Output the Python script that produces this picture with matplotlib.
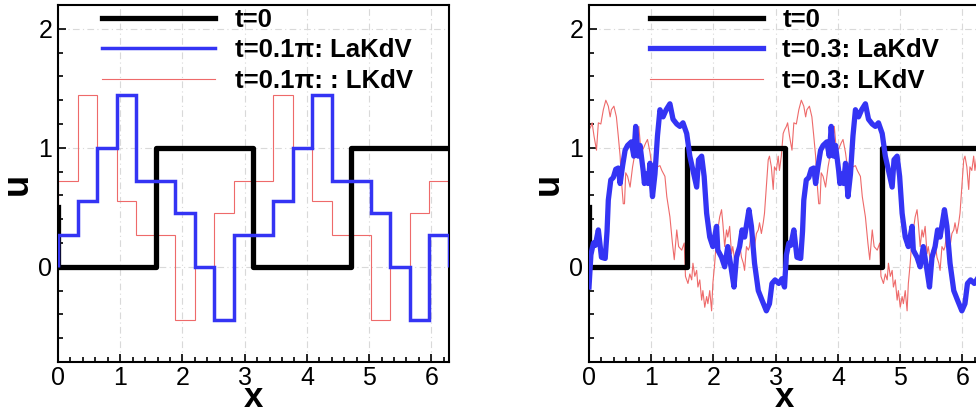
import numpy as np
import matplotlib
matplotlib.use("Agg")
import matplotlib.pyplot as plt
from matplotlib.ticker import MultipleLocator

# -----------------------------
# Data
# -----------------------------
# initial square wave, period pi
x_init = [0.0, 0.0, 0.5, 0.5, 1.0, 1.0, 1.5, 1.5, 2.0]   # in units of pi
u_init = [0.5, 0.0, 0.0, 1.0, 1.0, 0.0, 0.0, 1.0, 1.0]

# left panel: piecewise constant states on cells of width pi/10
cell_edges = [0.0, 0.1, 0.2, 0.3, 0.4, 0.5, 0.6, 0.7, 0.8, 0.9, 1.0,
              1.1, 1.2, 1.3, 1.4, 1.5, 1.6, 1.7, 1.8, 1.9, 2.0]   # in units of pi
u_lakdv_left = [0.27, 0.55, 1.00, 1.44, 0.72, 0.72, 0.45, 0.00, -0.45, 0.27,
                0.27, 0.55, 1.00, 1.44, 0.72, 0.72, 0.45, 0.00, -0.45, 0.27]
u_lkdv_left = [0.72, 1.44, 1.00, 0.55, 0.27, 0.27, -0.45, 0.00, 0.45, 0.72,
               0.72, 1.44, 1.00, 0.55, 0.27, 0.27, -0.45, 0.00, 0.45, 0.72]

# right panel: one period [0, pi), the solution repeats with period pi
x_lakdv = [0.00, 0.03, 0.07, 0.10, 0.15, 0.20, 0.26, 0.29, 0.31, 0.35,
           0.39, 0.43, 0.47, 0.50, 0.54, 0.58, 0.62, 0.68, 0.72, 0.75,
           0.79, 0.82, 0.87, 0.89, 0.92, 0.95, 0.98, 1.02, 1.06, 1.10,
           1.14, 1.19, 1.24, 1.30, 1.35, 1.41, 1.46, 1.51, 1.57, 1.62,
           1.67, 1.73, 1.76, 1.81, 1.85, 1.89, 1.94, 1.99, 2.05, 2.07,
           2.13, 2.18, 2.23, 2.29, 2.33, 2.37, 2.42, 2.46, 2.50, 2.57,
           2.61, 2.66, 2.72, 2.78, 2.85, 2.90, 2.94, 2.99, 3.05, 3.10]
u_lakdv = [-0.17, 0.10, 0.20, 0.18, 0.31, 0.08, 0.07, 0.30, 0.56, 0.73,
           0.75, 0.82, 0.83, 0.70, 0.85, 0.98, 1.02, 1.05, 0.93, 1.18,
           0.93, 1.02, 0.81, 0.70, 0.78, 0.70, 0.87, 0.59, 0.78, 1.10,
           1.32, 1.26, 1.32, 1.37, 1.24, 1.20, 1.18, 1.21, 1.12, 0.93,
           0.81, 0.67, 0.90, 0.93, 0.76, 0.45, 0.25, 0.17, 0.34, 0.14,
           0.08, 0.00, 0.17, -0.03, -0.17, 0.08, 0.17, 0.31, 0.25, 0.48,
           0.34, 0.03, -0.20, -0.28, -0.37, -0.31, -0.14, -0.11, -0.14, -0.10]

x_lkdv = [0.00, 0.03, 0.05, 0.08, 0.12, 0.15, 0.19, 0.23, 0.27, 0.31,
          0.34, 0.36, 0.40, 0.44, 0.47, 0.50, 0.52, 0.55, 0.57, 0.59,
          0.62, 0.66, 0.70, 0.73, 0.76, 0.80, 0.83, 0.87, 0.91, 0.94,
          0.98, 1.01, 1.06, 1.10, 1.14, 1.17, 1.22, 1.25, 1.30, 1.34,
          1.37, 1.41, 1.44, 1.49, 1.53, 1.55, 1.59, 1.62, 1.65, 1.67,
          1.70, 1.73, 1.75, 1.78, 1.81, 1.83, 1.86, 1.89, 1.91, 1.94,
          1.97, 1.99, 2.02, 2.05, 2.07, 2.10, 2.13, 2.15, 2.18, 2.21,
          2.23, 2.26, 2.29, 2.31, 2.34, 2.37, 2.40, 2.42, 2.45, 2.48,
          2.50, 2.53, 2.56, 2.58, 2.61, 2.64, 2.66, 2.69, 2.72, 2.74,
          2.77, 2.80, 2.82, 2.85, 2.88, 2.90, 2.93, 2.96, 2.98, 3.01,
          3.04, 3.06, 3.09, 3.12]
u_lkdv = [1.15, 1.18, 1.21, 1.10, 0.98, 1.21, 1.20, 1.32, 1.40, 1.35,
          1.26, 1.32, 1.35, 1.26, 1.10, 0.93, 0.73, 0.53, 0.53, 0.79,
          0.76, 0.67, 0.84, 0.93, 0.98, 1.18, 1.00, 0.99, 1.04, 1.07,
          0.96, 0.84, 0.90, 0.84, 0.85, 0.81, 0.76, 0.59, 0.42, 0.20,
          0.06, 0.31, 0.17, 0.14, 0.20, -0.08, -0.14, -0.06, -0.11, 0.03,
          -0.08, -0.03, -0.17, -0.11, -0.28, -0.20, -0.34, -0.25, -0.31, -0.20,
          -0.37, -0.14, 0.03, 0.25, 0.31, 0.42, 0.48, 0.37, 0.17, 0.31,
          0.25, 0.34, 0.11, 0.17, 0.06, 0.14, 0.08, 0.20, 0.08, 0.03,
          -0.03, 0.17, 0.14, 0.17, 0.31, 0.25, 0.17, 0.28, 0.31, 0.37,
          0.28, 0.37, 0.45, 0.67, 0.90, 0.93, 0.84, 0.65, 0.84, 0.81,
          0.93, 0.81, 0.93, 1.12]

labels_left = ["t=0", "t=0.1π: LaKdV", "t=0.1π: : LKdV"]
labels_right = ["t=0", "t=0.3: LaKdV", "t=0.3: LKdV"]

# -----------------------------
# Style
# -----------------------------
plt.rcParams["font.family"] = ["Liberation Sans", "DejaVu Sans"]

BLACK = "black"
BLUE = "#3434f4"
RED = "#ee6a6a"
GRID = "#d9d9d9"


def two_periods(x, u):
    x = np.asarray(x)
    u = np.asarray(u)
    xx = np.concatenate([x, x + np.pi, [2 * np.pi]])
    uu = np.concatenate([u, u, [u[0]]])
    return xx, uu


def style_axes(ax):
    ax.set_xlim(0, 2 * np.pi)
    ax.set_ylim(-0.8, 2.2)
    ax.xaxis.set_major_locator(MultipleLocator(1))
    ax.xaxis.set_minor_locator(MultipleLocator(0.2))
    ax.yaxis.set_major_locator(MultipleLocator(1))
    ax.yaxis.set_minor_locator(MultipleLocator(0.2))
    ax.tick_params(which="both", direction="in", width=1.2, labelsize=18)
    ax.tick_params(which="major", length=6)
    ax.tick_params(axis="x", which="major", pad=3)
    ax.tick_params(axis="y", which="major", pad=4)
    ax.tick_params(which="minor", length=3.5)
    ax.grid(True, which="major", color=GRID, linestyle=(0, (6, 3, 1, 3)), linewidth=0.8)
    ax.set_axisbelow(True)
    for s in ax.spines.values():
        s.set_linewidth(1.5)
    ax.set_xlabel("x", fontsize=25, fontweight="bold", va="baseline")
    ax.set_ylabel("u", fontsize=26, fontweight="bold")
    ax.xaxis.set_label_coords(0.5, -0.125)
    ax.yaxis.set_label_coords(-0.06, 0.5)


def add_legend(ax, x_anchor):
    ax.legend(loc="upper center", frameon=False,
              prop={"weight": "bold", "size": 18.5},
              handlelength=4.4, handletextpad=0.75, labelspacing=0.26,
              borderaxespad=0.0, borderpad=0.0, bbox_to_anchor=(x_anchor, 0.993))


fig = plt.figure(figsize=(9.76, 4.15), dpi=100)
ax1 = fig.add_axes([0.0594, 0.1277, 0.4006, 0.8602])
ax2 = fig.add_axes([0.6035, 0.1277, 0.4006, 0.8602])

x0 = np.array(x_init) * np.pi
edges = np.array(cell_edges) * np.pi

# left: t = 0.1 pi
ax1.plot(x0, u_init, color=BLACK, linewidth=3.8, label=labels_left[0], zorder=3)
ax1.stairs(u_lakdv_left, edges, color=BLUE, linewidth=2.5, label=labels_left[1], zorder=4)
ax1.stairs(u_lkdv_left, edges, color=RED, linewidth=0.8, label=labels_left[2], zorder=2)
style_axes(ax1)
add_legend(ax1, 0.51)

# right: t = 0.3
xb, ub = two_periods(x_lakdv, u_lakdv)
xr, ur = two_periods(x_lkdv, u_lkdv)
ax2.plot(x0, u_init, color=BLACK, linewidth=3.8, label=labels_right[0], zorder=3)
ax2.plot(xb, ub, color=BLUE, linewidth=3.8, label=labels_right[1], zorder=4)
ax2.plot(xr, ur, color=RED, linewidth=0.8, label=labels_right[2], zorder=2)
style_axes(ax2)
add_legend(ax2, 0.526)

fig.savefig("out.png", dpi=100)
